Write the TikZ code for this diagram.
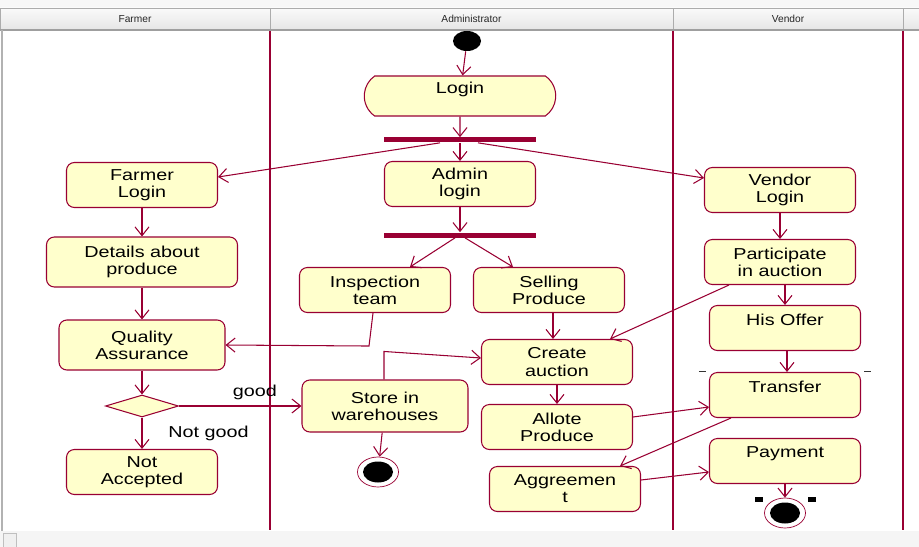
\documentclass[tikz,border=0pt]{standalone}
\usepackage{fontspec}
\setmainfont{Liberation Sans}[FakeStretch=1.25]
\newfontfamily\headfont{Liberation Sans}
\usetikzlibrary{positioning,calc,shapes.geometric,shapes.misc,arrows.meta}
\definecolor{lanered}{RGB}{153,0,51}
\definecolor{actfill}{RGB}{255,255,204}
\newcommand{\unitpx}{0.02cm}
\tikzset{
  act/.style={draw=lanered, fill=actfill, rounded corners=4.5pt, align=center,
    minimum width=151*\unitpx, minimum height=45*\unitpx, inner sep=1pt, line width=0.6pt},
  bar/.style={fill=lanered, minimum width=152*\unitpx, minimum height=5*\unitpx, inner sep=0pt},
  decision/.style={diamond, draw=lanered, fill=actfill, minimum width=73*\unitpx,
    minimum height=22*\unitpx, inner sep=0pt, line width=0.6pt},
  start/.style={ellipse, fill=black, minimum width=28*\unitpx, minimum height=20*\unitpx, inner sep=0pt},
  final/.style={ellipse, draw=lanered, fill=white, minimum width=41*\unitpx, minimum height=30*\unitpx,
    inner sep=0pt, path picture={\fill[black] (path picture bounding box.center) ellipse [x radius=0.3cm, y radius=0.21cm];}},
  flow/.style={draw=lanered, ->, line width=0.6pt},
  lane/.style={lanered, line width=0.6pt},
  headcell/.style={draw=gray!65, top color=gray!4, bottom color=gray!20},
}
\begin{document}
\begin{tikzpicture}[x=0.02cm, y=-0.02cm, font=\fontsize{9}{9.8}\selectfont,
  >={Straight Barb[length=5pt, width=8pt]}]
	\useasboundingbox (0,0) rectangle (919,547);
	\fill[white] (0,0) rectangle (919,547);
	% header of the lanes
	\fill[gray!6] (0,0) rectangle (919,8);
	\foreach \l/\r/\name [count=\i] in {0/270/Farmer, 270/673/Administrator, 673/903/Vendor, 903/919/{}} {
		\draw[headcell] (\l,8) rectangle (\r,30);
		\node[font=\headfont\fontsize{5.8}{6}\selectfont, text=black!85] (head\i) at ({(\l+\r)/2},19) {\name};
	}
	\draw[gray!75, line width=0.8pt] (0,30) -- (919,30);
	\draw[gray!60, line width=0.9pt] (2,30) -- (2,531);
	\foreach \x in {270,673,903}
		\draw[lane] (\x,31) -- (\x,530);
	\fill[gray!8] (0,531) rectangle (919,547);
	\draw[gray!50, fill=gray!12] (3,533) rectangle (16,547);

	% activities
	\node[start] (init) at (467,41) {};
	\node[act, rounded rectangle, rounded rectangle arc length=110, sharp corners, minimum width=195*\unitpx, minimum height=40*\unitpx] (login) at (460,96) {Login\\ {}};
	\node[bar] (fork1) at (460,140) {};
	\node[act] (alogin) at (460,184) {Admin\\login};
	\node[bar] (fork2) at (460,235) {};
	\node[act] (flogin) at (142,185) {Farmer\\Login};
	\node[act] (vlogin) at (780,190) {Vendor\\Login};
	\node[act, minimum width=191*\unitpx, minimum height=50*\unitpx] (details) at (142,262) {Details about\\produce};
	\node[act] (participate) at (780,262) {Participate\\in auction};
	\node[act] (inspect) at (375,290) {Inspection\\team};
	\node[act] (selling) at (549,290) {Selling\\Produce};
	\node[act, minimum width=166*\unitpx, minimum height=50*\unitpx] (quality) at (142,345) {Quality\\Assurance};
	\node[act] (offer) at (785,328) {His Offer\\ {}};
	\node[act] (create) at (557,362) {Create\\auction};
	\node[act, minimum width=166*\unitpx, minimum height=52*\unitpx] (store) at (385,406) {Store in\\warehouses};
	\node[decision] (check) at (142,406) {};
	\node[act] (transfer) at (785,395) {Transfer\\ {}};
	\node[act] (allote) at (557,427) {Allote\\Produce};
	\node[act] (agree) at (565,489) {Aggreemen\\t};
	\node[act] (payment) at (785,461) {Payment\\ {}};
	\node[act] (reject) at (142,472) {Not\\Accepted};
	\node[final] (stop1) at (378,472) {};
	\node[final] (stop2) at (785,513) {};

	% flows
	\draw[flow] (init) -- (login);
	\draw[flow] (login) -- (fork1);
	\draw[flow] (fork1) -- (alogin);
	\draw[flow] ($(fork1.south)+(-20,0)$) -- ($(flogin.east)+(0,-8)$);
	\draw[flow] ($(fork1.south)+(18,0)$) -- ($(vlogin.west)+(0,-12)$);
	\draw[flow] (alogin) -- (fork2);
	\draw[flow] ($(fork2.south)+(-5,0)$) -- ($(inspect.north)+(35,0)$);
	\draw[flow] ($(fork2.south)+(5,0)$) -- ($(selling.north)+(-36,0)$);
	\draw[flow] (flogin) -- (details);
	\draw[flow] (details) -- (quality);
	\draw[flow] ($(inspect.south)+(-2,0)$) -- ++(-4,33) -- (quality.east);
	\draw[flow] (quality) -- (check);
	\draw[flow] (check) -- node[above, pos=0.62] {good} (store);
	\draw[flow] (check) -- node[right=0.4cm] {Not good} (reject);
	\draw[flow] ($(store.north)+(-1,0)$) -- ++(0,-28) -- ($(create.west)+(0,-4)$);
	\draw[flow] (store) -- (stop1);
	\draw[flow] ($(selling.south)+(4,0)$) -- ($(create.north)+(-4,0)$);
	\draw[flow] ($(participate.south west)+(25,0)$) -- ($(create.north east)+(-23,0)$);
	\draw[flow] (create) -- (allote);
	\draw[flow] (vlogin) -- (participate);
	\draw[flow] ($(participate.south)+(5,0)$) -- (offer.north);
	\draw[flow] ($(offer.south)+(2,0)$) -- ($(transfer.north)+(2,0)$);
	\draw[flow] ($(allote.east)+(0,-10)$) -- ($(transfer.west)+(0,12)$);
	\draw[flow] ($(transfer.south west)+(22,0)$) -- ($(agree.north east)+(-21,0)$);
	\draw[flow] ($(agree.east)+(0,-9)$) -- ($(payment.west)+(0,11)$);
	\draw[flow] (payment) -- (stop2);

	% handles
	\draw[gray!40!black] ($(transfer.north west)+(-10,-1)$) -- ++(7,0);
	\draw[gray!40!black] ($(transfer.north east)+(3,-1)$) -- ++(7,0);
	\fill[black] ($(stop2)+(-30,-16)$) rectangle ++(8,5);
	\fill[black] ($(stop2)+(23,-16)$) rectangle ++(8,5);
\end{tikzpicture}
\end{document}
